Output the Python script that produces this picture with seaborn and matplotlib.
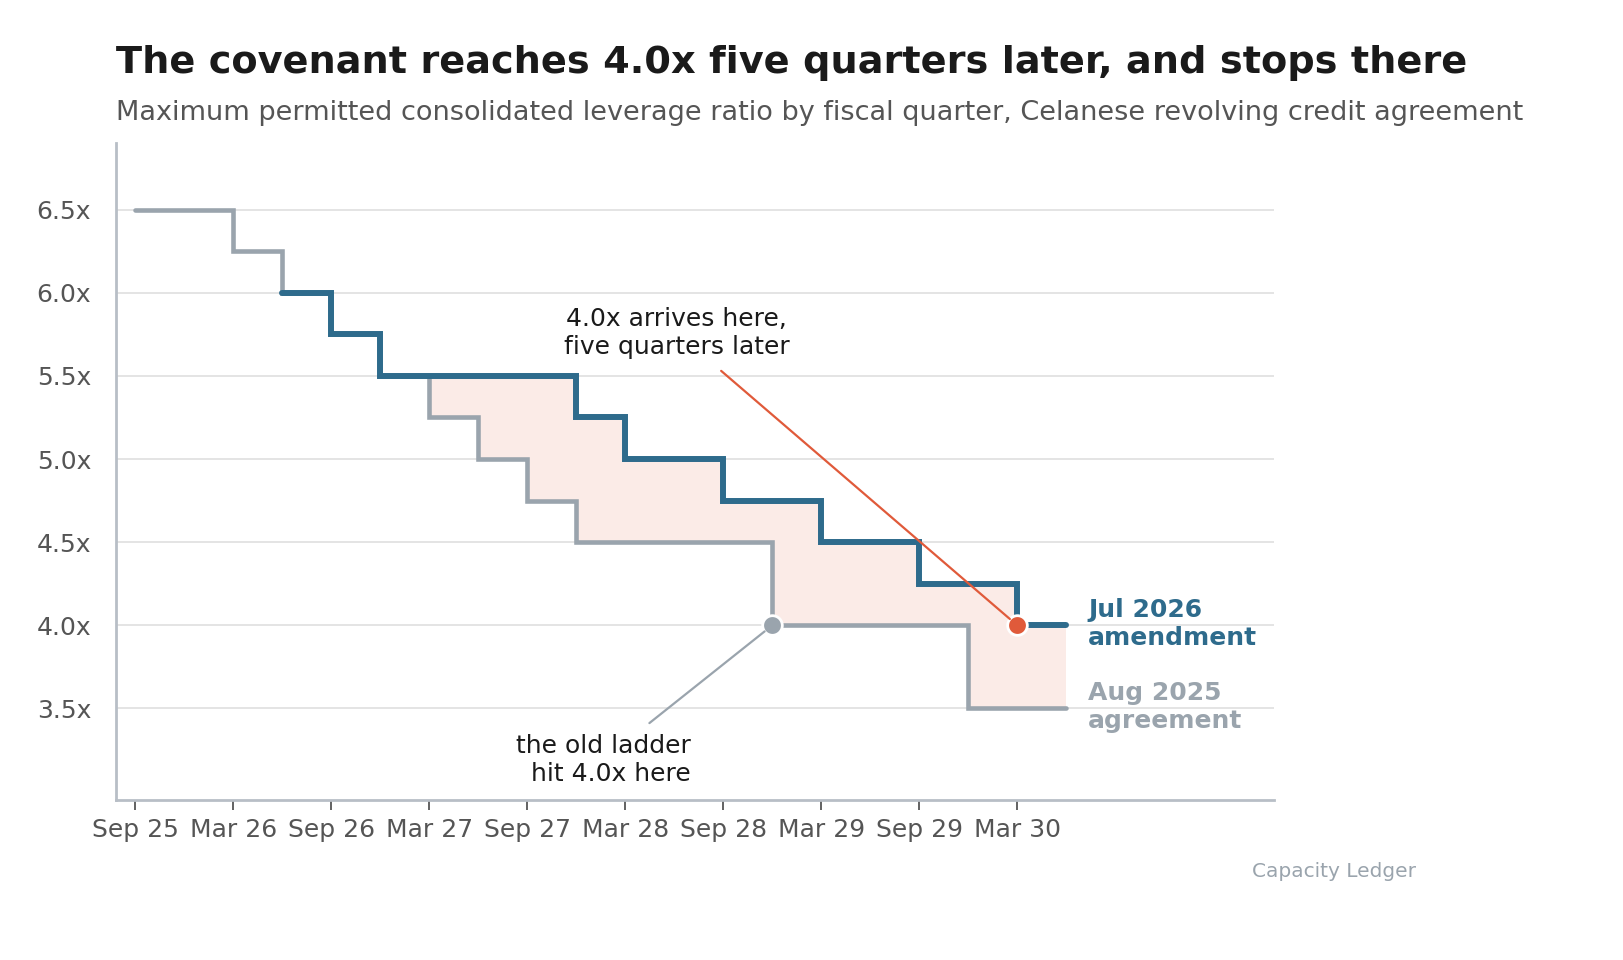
import matplotlib
matplotlib.use("Agg")
import matplotlib.pyplot as plt
import seaborn as sns
import pandas as pd

# ---- data ----
quarters = ["Sep 25", "Dec 25", "Mar 26", "Jun 26", "Sep 26", "Dec 26", "Mar 27", "Jun 27",
            "Sep 27", "Dec 27", "Mar 28", "Jun 28", "Sep 28", "Dec 28", "Mar 29", "Jun 29",
            "Sep 29", "Dec 29", "Mar 30", "Jun 30"]
aug2025 = [6.5, 6.5, 6.25, 6.0, 5.75, 5.5, 5.25, 5.0, 4.75, 4.5,
           4.5, 4.5, 4.5, 4.0, 4.0, 4.0, 4.0, 3.5, 3.5, 3.5]
jul2026 = [None, None, None, 6.0, 5.75, 5.5, 5.5, 5.5, 5.5, 5.25,
           5.0, 5.0, 4.75, 4.75, 4.5, 4.5, 4.25, 4.25, 4.0, 4.0]
tick_labels = ["Sep 25", "Mar 26", "Sep 26", "Mar 27", "Sep 27",
               "Mar 28", "Sep 28", "Mar 29", "Sep 29", "Mar 30"]
y_ticks = [3.5, 4.0, 4.5, 5.0, 5.5, 6.0, 6.5]
old_hit_q = "Dec 28"
new_hit_q = "Mar 30"
hit_level = 4.0

BLUE = "#2e6b8c"
GRAY = "#9aa4ad"
ORANGE = "#e05a3a"
FILL = "#fbebe7"

pos = list(range(len(quarters)))
df_old = pd.DataFrame({"q": pos, "v": aug2025})
df_new = pd.DataFrame({"q": pos, "v": jul2026}).dropna()

sns.set_theme(style="white")
plt.rcParams["font.family"] = ["DejaVu Sans"]

fig = plt.figure(figsize=(16.23, 9.6), dpi=100)
ax = fig.add_axes([0.0715, 0.1667, 0.7135, 0.6843])

# fill between old and new
fill_x = df_new["q"].tolist()
fill_old = [aug2025[i] for i in fill_x]
fill_new = df_new["v"].tolist()
ax.fill_between(fill_x, fill_old, fill_new, step="post", color=FILL, lw=0, zorder=1)

sns.lineplot(data=df_old, x="q", y="v", ax=ax, color=GRAY, lw=3.3,
             drawstyle="steps-post", zorder=3, solid_capstyle="round", solid_joinstyle="miter")
sns.lineplot(data=df_new, x="q", y="v", ax=ax, color=BLUE, lw=4.3,
             drawstyle="steps-post", zorder=4, solid_capstyle="round", solid_joinstyle="miter")

xo = quarters.index(old_hit_q)
xn = quarters.index(new_hit_q)
sns.scatterplot(x=[xo], y=[hit_level], ax=ax, color=GRAY, s=200, edgecolor="white",
                linewidth=2, zorder=6)
sns.scatterplot(x=[xn], y=[hit_level], ax=ax, color=ORANGE, s=200, edgecolor="white",
                linewidth=2, zorder=6)

# annotations
ax.annotate("4.0x arrives here,\nfive quarters later", xy=(xn, hit_level), xytext=(11.05, 5.76),
            ha="center", va="center", fontsize=18, color="#1a1a1a",
            arrowprops=dict(arrowstyle="-", color=ORANGE, lw=1.6, shrinkA=10, shrinkB=7),
            zorder=7)
ax.annotate("the old ladder\nhit 4.0x here", xy=(xo, hit_level), xytext=(11.33, 3.19),
            ha="right", va="center", fontsize=18, color="#1a1a1a",
            arrowprops=dict(arrowstyle="-", color=GRAY, lw=1.6, shrinkA=9, shrinkB=7),
            zorder=7)

ax.text(19.45, 4.01, "Jul 2026\namendment", ha="left", va="center", fontsize=18,
        fontweight="bold", color=BLUE, linespacing=1.2)
ax.text(19.45, 3.51, "Aug 2025\nagreement", ha="left", va="center", fontsize=18,
        fontweight="bold", color=GRAY, linespacing=1.2)

ax.set_xlim(-0.39, 23.24)
ax.set_ylim(2.95, 6.9)
ax.set_xticks(list(range(0, 19, 2)))
ax.set_xticklabels(tick_labels)
ax.set_yticks(y_ticks)
ax.set_yticklabels([f"{v:.1f}x" for v in y_ticks])
ax.set_xlabel("")
ax.set_ylabel("")

ax.grid(axis="y", color="#e2e2e2", lw=1.3)
ax.grid(axis="x", visible=False)
ax.set_axisbelow(True)
for s in ["top", "right"]:
    ax.spines[s].set_visible(False)
for s in ["left", "bottom"]:
    ax.spines[s].set_color("#b8bec6")
    ax.spines[s].set_linewidth(2)
ax.tick_params(axis="x", length=7, width=1.3, color="#555555", labelsize=18,
               labelcolor="#555555", pad=6, bottom=True)
ax.tick_params(axis="y", length=0, labelsize=18, labelcolor="#555555", pad=18)

fig.text(0.0715, 0.924, "The covenant reaches 4.0x five quarters later, and stops there",
         fontsize=27.5, fontweight="bold", color="#1a1a1a", ha="left", va="baseline")
fig.text(0.0715, 0.875,
         "Maximum permitted consolidated leverage ratio by fiscal quarter, Celanese revolving credit agreement",
         fontsize=19.5, color="#555555", ha="left", va="baseline")
fig.text(0.8725, 0.0917, "Capacity Ledger", fontsize=14.5, color="#9aa4ad", ha="right", va="center")

fig.savefig("out.png", dpi=100)
